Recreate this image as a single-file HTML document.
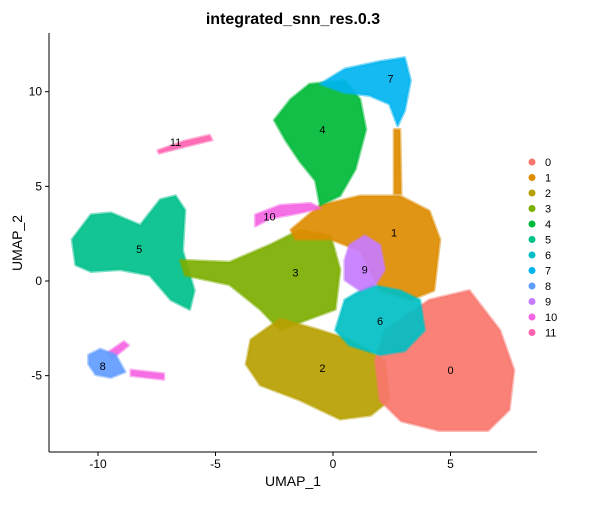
<!DOCTYPE html>
<html><head><meta charset="utf-8"><style>
body{margin:0;background:#fff;font-family:"Liberation Sans",sans-serif}
svg text{font-family:"Liberation Sans",sans-serif}
</style></head><body>
<svg id="chart" width="600" height="500" xmlns="http://www.w3.org/2000/svg">
<text x="293" y="24" text-anchor="middle" font-size="16" font-weight="bold">integrated_snn_res.0.3</text>
<g id="plot"></g>
<g id="axes"></g>
<g id="legend"></g>
<text x="293" y="486" text-anchor="middle" font-size="14">UMAP_1</text>
<text x="0" y="0" transform="translate(22,243) rotate(-90)" text-anchor="middle" font-size="14">UMAP_2</text>
</svg>
<script>
const clusters=["0","1","2","3","4","5","6","7","8","9","10","11"];
const colors=["#F8766D","#DE8C00","#B79F00","#7CAE00","#00BA38","#00C08B","#00BFC4","#00B4F0","#619CFF","#C77CFF","#F564E3","#FF64B0"];
const xTicks=[-10,-5,0,5];
const yTicks=[-5,0,5,10];
// cluster region outlines in UMAP coordinates
const region0=[[2.2,-2.6],[4.1,-1.0],[5.8,-0.5],[7.1,-2.6],[7.7,-4.7],[7.5,-6.8],[6.6,-7.9],[4.5,-7.9],[2.9,-7.4],[2.0,-6.3],[1.8,-4.2]];
const region1=[[-1.8,2.7],[-0.55,4.0],[1.15,4.5],[2.85,4.5],[4.1,3.7],[4.55,2.2],[4.3,-0.5],[3.3,-1.0],[2.0,-0.5],[1.15,1.6],[-0.1,2.2],[-1.6,2.2]];
const region1b=[[2.6,8.0],[2.85,8.0],[2.9,4.6],[2.6,4.6]];
const region2=[[-3.5,-3.1],[-2.25,-2.0],[-0.55,-2.6],[0.7,-3.1],[2.2,-4.2],[2.4,-6.3],[1.6,-7.1],[0.3,-7.3],[-1.4,-6.3],[-3.1,-5.5],[-3.7,-4.4]];
const region3=[[-6.5,1.1],[-4.4,1.0],[-2.7,1.9],[-1.4,2.7],[-0.1,2.4],[0.3,0.6],[0.1,-1.5],[-1.0,-2.0],[-2.25,-2.6],[-3.1,-1.5],[-4.4,-0.2],[-6.3,0.3]];
const region4=[[-1.8,9.6],[-1.0,10.4],[0.5,10.6],[1.15,9.6],[1.4,8.0],[0.95,5.9],[0.3,4.5],[-0.55,4.0],[-0.75,5.3],[-1.4,6.3],[-2.0,7.4],[-2.5,8.5]];
const region5=[[-11.1,2.2],[-10.3,3.5],[-9.45,3.6],[-8.2,2.95],[-7.35,4.3],[-6.7,4.5],[-6.3,3.75],[-6.4,1.6],[-5.9,-0.5],[-6.1,-1.5],[-6.9,-1.0],[-7.8,0.3],[-9.05,0.6],[-10.3,0.5],[-10.95,0.85]];
const region6=[[0.5,-1.0],[1.6,-0.2],[2.85,-0.5],[3.7,-1.0],[3.9,-2.6],[3.05,-3.7],[2.0,-3.9],[0.7,-3.4],[0.1,-2.6]];
const region7=[[-0.55,10.4],[0.5,11.2],[2.0,11.6],[3.05,11.8],[3.3,10.6],[3.05,9.0],[2.75,8.2],[2.4,9.35],[1.55,9.8],[0.5,9.95]];
const region8=[[-10.4,-3.9],[-9.9,-3.6],[-9.25,-3.9],[-8.85,-4.8],[-9.45,-5.1],[-10.1,-4.95],[-10.4,-4.4]];
const region9=[[0.7,1.9],[1.35,2.4],[2.0,1.9],[2.2,0.6],[1.8,-0.2],[1.15,-0.5],[0.5,0.05],[0.5,1.1]];
const region10=[[-3.3,3.5],[-2.25,4.0],[-0.95,4.1],[-0.55,3.85],[-1.4,3.6],[-2.7,3.3],[-3.3,2.9]];
const region10b=[[-9.6,-3.8],[-8.9,-3.2],[-8.7,-3.4],[-9.4,-4.1]];
const region10c=[[-8.6,-4.7],[-7.2,-4.9],[-7.2,-5.2],[-8.6,-5.0]];
const region11=[[-7.45,6.9],[-6.3,7.4],[-5.25,7.7],[-5.15,7.45],[-6.3,7.1],[-7.4,6.75]];
const regionCluster=[5,3,2,0,1,1,6,9,4,7,10,10,10,11,8];
const regions=[region5,region3,region2,region0,region1,region1b,region6,region9,region4,region7,region10,region10b,region10c,region11,region8];
const labelX=[5.0,2.6,-0.45,-1.6,-0.45,-8.25,2.0,2.45,-9.8,1.35,-2.7,-6.7];
const labelY=[-4.7,2.55,-4.6,0.45,8.0,1.7,-2.1,10.7,-4.5,0.6,3.4,7.35];

const X0=49,X1=537,Y0=33,Y1=452;
const xs=v=>333+v*23.5;
const ys=v=>281-v*18.93;
const NS="http://www.w3.org/2000/svg";
function mk(t,a,p){const e=document.createElementNS(NS,t);for(const k in a)e.setAttribute(k,a[k]);p.appendChild(e);return e;}
const plot=document.getElementById('plot'),axes=document.getElementById('axes'),legend=document.getElementById('legend');
regions.forEach((r,i)=>{
  const c=regionCluster[i];
  const p=mk('polygon',{points:r.map(q=>xs(q[0])+','+ys(q[1])).join(' '),fill:colors[c],stroke:colors[c],'stroke-width':3,'stroke-linejoin':'round','fill-opacity':0.92,'stroke-opacity':0.5},plot);
  
  
});
clusters.forEach((c,i)=>{
  const t=mk('text',{x:xs(labelX[i]),y:ys(labelY[i])+4,'text-anchor':'middle','font-size':11},plot);
  t.textContent=c;
  
  
});
const xa=mk('line',{x1:X0,y1:Y1,x2:X1,y2:Y1,stroke:'#000','stroke-width':1},axes);


const ya=mk('line',{x1:X0,y1:Y0,x2:X0,y2:Y1,stroke:'#000','stroke-width':1},axes);


xTicks.forEach(v=>{
  mk('line',{x1:xs(v),y1:Y1,x2:xs(v),y2:Y1+4,stroke:'#000'},axes);
  const t=mk('text',{x:xs(v),y:Y1+16,'text-anchor':'middle','font-size':12,fill:'#000'},axes);
  t.textContent=v;
  
  
});
yTicks.forEach(v=>{
  mk('line',{x1:X0-4,y1:ys(v),x2:X0,y2:ys(v),stroke:'#000'},axes);
  const t=mk('text',{x:X0-7,y:ys(v)+4,'text-anchor':'end','font-size':12,fill:'#000'},axes);
  t.textContent=v;
  
  
});
clusters.forEach((c,i)=>{
  const y=162+i*15.5;
  const g=mk('g',{},legend);
  
  
  mk('circle',{cx:532,cy:y,r:3.5,fill:colors[i]},g);
  const t=mk('text',{x:545,y:y+4,'font-size':11},g);
  t.textContent=c;
});
</script>
</body></html>
